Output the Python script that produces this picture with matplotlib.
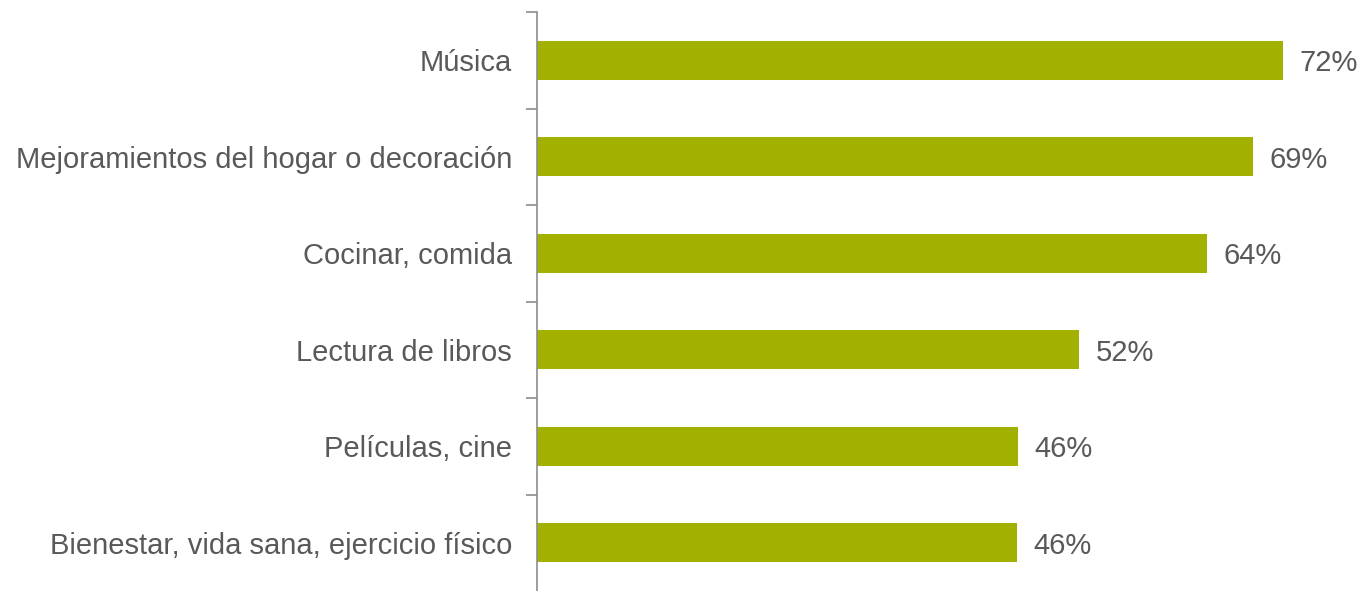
import matplotlib
matplotlib.use("Agg")
import matplotlib.pyplot as plt

categories = ["Música", "Mejoramientos del hogar o decoración", "Cocinar, comida",
              "Lectura de libros", "Películas, cine", "Bienestar, vida sana, ejercicio físico"]
values = [72.1, 69.2, 64.7, 52.4, 46.5, 46.4]
labels = ["72%", "69%", "64%", "52%", "46%", "46%"]

plt.rcParams['font.family'] = ['Liberation Sans', 'DejaVu Sans']
W, H = 1361, 591
fig = plt.figure(figsize=(W / 100, H / 100), dpi=100)
ax = fig.add_axes([537 / W, 0, 1 - 537 / W, (H - 12) / H])

n = len(categories)
ypos = list(range(n))[::-1]
ax.barh(ypos, values, height=0.4, color="#A2B000", edgecolor="none")
ax.set_ylim(-0.5, n - 0.5)
ax.set_xlim(0, 824 / 10.35)

for y, v, lab in zip(ypos, values, labels):
    ax.text(v + 1.6, y, lab, va="center_baseline", ha="left", fontsize=21, color="#595959")

ax.set_yticks([i + 0.5 for i in range(n)])
ax.set_yticklabels([])
ax.set_yticks(ypos, minor=True)
ax.set_yticklabels(categories, minor=True, fontsize=21, color="#595959")
ax.tick_params(axis="y", which="major", length=8, width=1.2, color="#8C8C8C", direction="out")
ax.tick_params(axis="y", which="minor", length=0, pad=18)
ax.set_xticks([])
for s in ["top", "right", "bottom"]:
    ax.spines[s].set_visible(False)
ax.spines["left"].set_color("#8C8C8C")
ax.spines["left"].set_linewidth(1.2)

fig.savefig("out.png", dpi=100)
